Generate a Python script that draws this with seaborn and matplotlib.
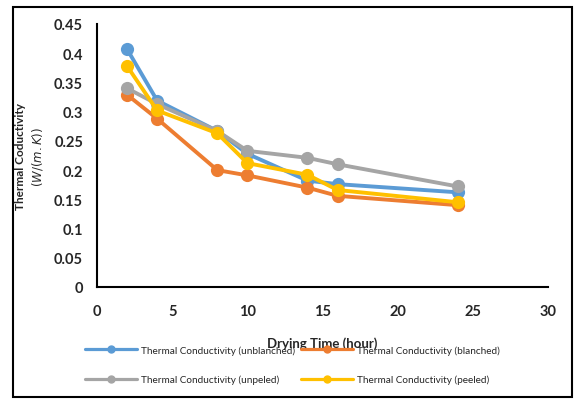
import matplotlib
matplotlib.use("Agg")
import matplotlib.pyplot as plt
import seaborn as sns
import pandas as pd
from matplotlib.lines import Line2D
from matplotlib.patches import Rectangle

time_h = [2, 4, 8, 10, 14, 16, 24]
unblanched = [0.407, 0.319, 0.267, 0.228, 0.182, 0.176, 0.162]
blanched = [0.329, 0.288, 0.200, 0.191, 0.170, 0.156, 0.140]
unpeled = [0.340, 0.313, 0.267, 0.233, 0.221, 0.210, 0.172]
peeled = [0.378, 0.302, 0.263, 0.212, 0.192, 0.166, 0.145]

series_names = ["Thermal Conductivity (unblanched)", "Thermal Conductivity (blanched)",
                "Thermal Conductivity (unpeled)", "Thermal Conductivity (peeled)"]
colors = ["#5B9BD5", "#ED7D31", "#A5A5A5", "#FFC000"]

rows = []
for name, vals in zip(series_names, [unblanched, blanched, unpeled, peeled]):
    for t, v in zip(time_h, vals):
        rows.append({"time": t, "k": v, "series": name})
df = pd.DataFrame(rows)

sns.set_theme(style="white")
plt.rcParams['font.family'] = ['Lato', 'DejaVu Sans']

fig = plt.figure(figsize=(5.76, 4.02), dpi=100)
ax = fig.add_axes([97/576, 1-288/402, (548-97)/576, (288-25)/402])

for name, c in zip(series_names, colors):
    sub = df[df.series == name]
    sns.lineplot(data=sub, x="time", y="k", ax=ax, color=c, lw=2.8,
                 marker="o", markersize=9.5, markeredgewidth=0, legend=False)

ax.set_xlim(0, 30)
ax.set_ylim(0, 0.45)
ax.set_xticks([0, 5, 10, 15, 20, 25, 30])
ax.set_yticks([0, 0.05, 0.1, 0.15, 0.2, 0.25, 0.3, 0.35, 0.4, 0.45])
ax.set_yticklabels(["0", "0.05", "0.1", "0.15", "0.2", "0.25", "0.3", "0.35", "0.4", "0.45"])
for lab in ax.get_xticklabels() + ax.get_yticklabels():
    lab.set_fontweight("bold")
    lab.set_fontsize(10.5)
ax.tick_params(axis="x", pad=12, length=0)
ax.tick_params(axis="y", pad=10, length=0)
for s in ["top", "right"]:
    ax.spines[s].set_visible(False)
for s in ["left", "bottom"]:
    ax.spines[s].set_color("black")
    ax.spines[s].set_linewidth(1.5)

ax.set_xlabel("")
ax.set_ylabel("")
fig.text(322/576, 1-344/402, "Drying Time (hour)", ha="center", va="center",
         fontsize=9.5, fontweight="bold")
fig.text(30/576, 1-157/402, "Thermal Coductivity\n$(W/(m.K))$", ha="center", va="center",
         rotation=90, fontsize=8.5, fontweight="bold", linespacing=1.3)

order = [0, 2, 1, 3]
handles = [Line2D([0], [0], color=colors[i], lw=2.3, marker="o", markersize=5) for i in order]
labels = [series_names[i] for i in order]
fig.legend(handles, labels, loc="upper left", bbox_to_anchor=(85/576, 1-346/402),
           ncol=2, frameon=False, fontsize=7.2, handlelength=5.2, columnspacing=0.6,
           handletextpad=0.4, labelspacing=2.0, borderpad=0, borderaxespad=0)

fig.patches.append(Rectangle((13/576, 1-398/402), (572-13)/576, (398-8)/402,
                             transform=fig.transFigure, fill=False, ec="black", lw=1.5))

fig.savefig("out.png", dpi=100)
